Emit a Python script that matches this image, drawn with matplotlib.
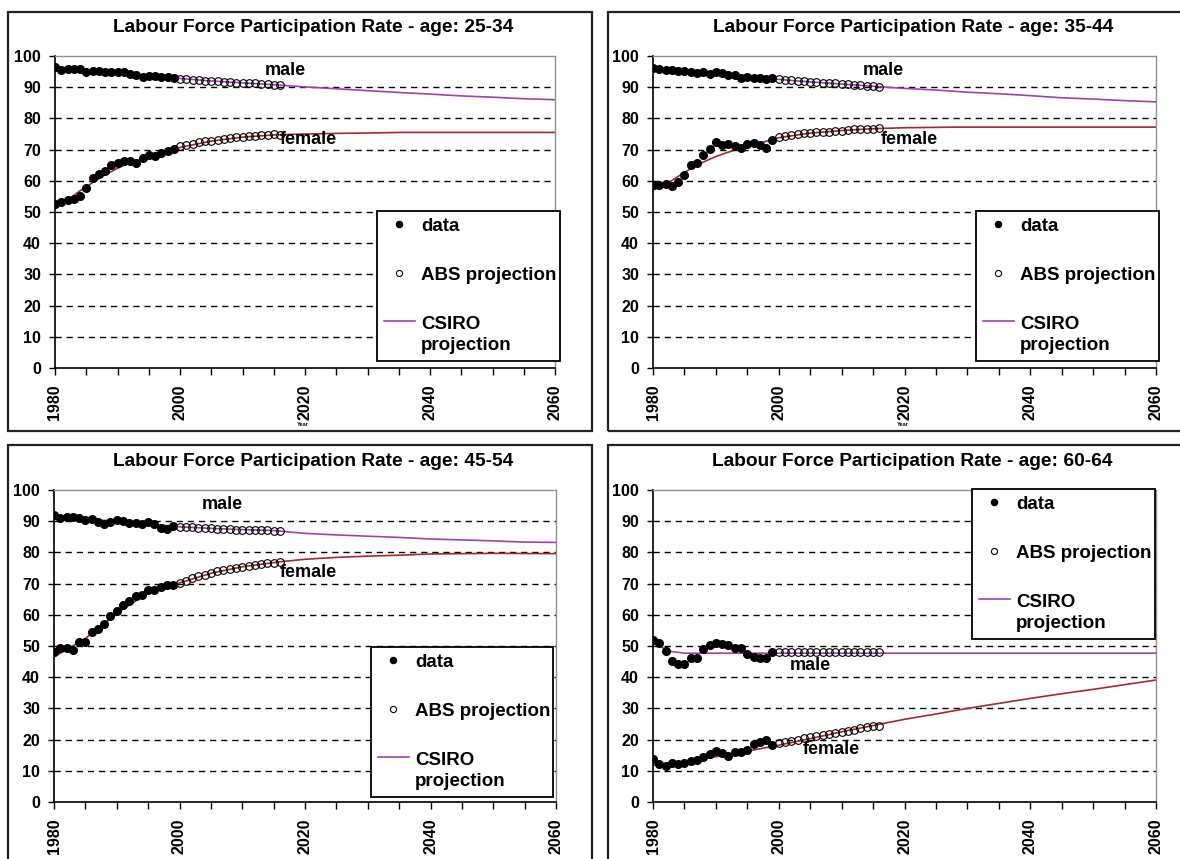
import numpy as np
import matplotlib.pyplot as plt
from matplotlib.patches import Rectangle
from matplotlib.ticker import MultipleLocator

plt.rcParams['font.family'] = ['Liberation Sans', 'DejaVu Sans']
plt.rcParams['font.weight'] = 'bold'

W, H = 1180, 859

ages = ['25-34', '35-44', '45-54', '60-64']

years_data = np.arange(1980, 2000)
years_abs = np.arange(2000, 2017)

# observed participation rates 1980-1999
male_data = {
    '25-34': [96.4, 95.5, 95.9, 95.7, 95.7, 94.9, 95.2, 95.2, 94.9, 94.9,
              94.9, 94.9, 94.2, 93.8, 93.3, 93.6, 93.6, 93.3, 93.3, 93.0],
    '35-44': [96.1, 95.7, 95.5, 95.4, 95.2, 95.2, 95.0, 94.6, 94.9, 94.2,
              95.0, 94.7, 93.9, 94.0, 93.0, 93.4, 93.1, 92.8, 92.7, 92.8],
    '45-54': [91.9, 91.1, 91.2, 91.2, 90.9, 90.3, 90.7, 89.6, 89.0, 89.7,
              90.5, 90.2, 89.4, 89.4, 89.0, 89.9, 89.2, 87.7, 87.4, 88.6],
    '60-64': [51.8, 50.9, 48.4, 45.3, 44.3, 44.1, 46.0, 46.2, 49.1, 50.4,
              51.1, 50.5, 50.2, 49.3, 49.2, 47.3, 46.6, 46.3, 46.2, 48.1],
}
female_data = {
    '25-34': [52.6, 53.3, 53.7, 54.2, 55.2, 57.6, 61.0, 62.3, 63.2, 65.0,
              65.8, 66.3, 66.2, 65.8, 67.2, 68.4, 68.1, 68.8, 69.4, 70.3],
    '35-44': [58.6, 58.7, 59.0, 58.3, 59.5, 61.7, 65.0, 65.6, 68.2, 70.3,
              72.5, 71.5, 71.7, 71.0, 70.5, 71.9, 72.1, 71.4, 70.4, 73.2],
    '45-54': [48.1, 49.2, 49.5, 48.7, 51.2, 51.2, 54.4, 55.5, 57.2, 59.7,
              61.3, 63.2, 64.5, 66.0, 66.2, 68.1, 67.8, 69.0, 69.6, 69.5],
    '60-64': [13.9, 12.1, 11.5, 12.5, 12.1, 12.4, 13.0, 13.6, 14.3, 15.3,
              16.4, 15.6, 14.8, 15.9, 16.0, 16.6, 18.5, 19.1, 19.8, 18.4],
}

# ABS projections 2000-2016
male_abs = {
    '25-34': [92.7, 92.6, 92.4, 92.2, 92.1, 92.0, 91.9, 91.8, 91.6, 91.5,
              91.4, 91.3, 91.2, 91.0, 90.9, 90.8, 90.7],
    '35-44': [92.5, 92.3, 92.2, 92.0, 91.9, 91.7, 91.6, 91.5, 91.3, 91.2,
              91.0, 90.9, 90.8, 90.6, 90.5, 90.3, 90.2],
    '45-54': [88.1, 88.1, 88.0, 87.9, 87.8, 87.8, 87.6, 87.6, 87.5, 87.3,
              87.3, 87.3, 87.2, 87.2, 87.1, 87.0, 87.0],
    '60-64': [48.0, 48.0, 48.0, 48.0, 48.0, 48.0, 48.0, 48.0, 48.0, 48.0,
              48.0, 48.0, 48.0, 48.0, 48.0, 48.0, 48.0],
}
female_abs = {
    '25-34': [71.0, 71.4, 71.7, 72.3, 72.6, 72.9, 73.2, 73.4, 73.6, 73.9,
              74.1, 74.3, 74.4, 74.6, 74.7, 74.9, 74.8],
    '35-44': [73.9, 74.3, 74.7, 74.9, 75.2, 75.3, 75.5, 75.7, 75.8, 76.0,
              76.1, 76.4, 76.5, 76.6, 76.7, 76.7, 77.0],
    '45-54': [70.2, 70.9, 71.7, 72.4, 72.8, 73.3, 73.9, 74.3, 74.7, 75.0,
              75.4, 75.8, 76.0, 76.4, 76.6, 76.7, 76.9],
    '60-64': [19.0, 19.2, 19.5, 19.8, 20.5, 20.9, 21.3, 21.5, 21.8, 22.2,
              22.5, 22.8, 23.2, 23.6, 23.9, 24.2, 24.4],
}

# CSIRO projection (year, value) pairs
years_5 = [1980, 1985, 1990, 1995, 2000, 2005, 2010, 2015, 2020,
           2025, 2030, 2035, 2040, 2045, 2050, 2055, 2060]
male_csiro = {
    '25-34': (years_5, [96.0, 95.2, 94.7, 93.7, 92.8, 92.0, 91.4, 90.8, 90.1,
                        89.5, 88.9, 88.3, 87.8, 87.2, 86.8, 86.3, 86.0]),
    '35-44': (years_5, [96.0, 95.1, 94.5, 93.5, 92.5, 91.7, 91.0, 90.3, 89.6,
                        89.1, 88.4, 87.9, 87.3, 86.6, 86.2, 85.7, 85.3]),
    '45-54': (years_5, [91.5, 90.7, 90.0, 89.2, 88.2, 87.7, 87.3, 87.0, 86.1,
                        85.6, 85.2, 84.8, 84.3, 84.0, 83.7, 83.3, 83.2]),
    '60-64': ([1980, 1982, 1983, 1985, 2060], [51.0, 49.0, 48.2, 47.7, 47.7]),
}
female_csiro = {
    '25-34': ([1980, 1982, 1984, 1986, 1988, 1990, 1992, 1995, 2000, 2005,
               2010, 2015, 2020, 2025, 2030, 2035, 2060],
              [52.3, 53.8, 56.8, 59.4, 61.9, 64.0, 65.8, 67.6, 70.7, 72.7,
               74.0, 74.7, 75.0, 75.2, 75.3, 75.5, 75.5]),
    '35-44': ([1980, 1982, 1984, 1986, 1988, 1990, 1992, 1995, 2000, 2005,
               2010, 2015, 2020, 2028, 2060],
              [57.0, 58.8, 61.4, 63.9, 66.0, 67.8, 69.2, 71.0, 73.8, 75.3,
               76.1, 76.7, 77.0, 77.2, 77.2]),
    '45-54': ([1980, 1985, 1990, 1995, 2000, 2005, 2010, 2016, 2020, 2025,
               2030, 2035, 2040, 2050, 2060],
              [46.5, 52.4, 60.5, 67.0, 70.2, 73.3, 75.4, 77.0, 77.8, 78.4,
               78.8, 79.1, 79.5, 79.7, 79.6]),
    '60-64': (years_5, [11.8, 12.8, 14.5, 16.3, 18.2, 20.3, 22.5, 24.5, 26.5,
                        28.2, 30.0, 31.6, 33.2, 34.7, 36.1, 37.6, 39.1]),
}

# label positions (year, value) for "male" / "female"
male_label = {'25-34': (2016.8, 95.5), '35-44': (2016.6, 95.5),
              '45-54': (2006.8, 95.5), '60-64': (2005.0, 43.6)}
female_label = {'25-34': (2020.6, 73.1), '35-44': (2020.7, 73.2),
                '45-54': (2020.6, 73.6), '60-64': (2008.4, 16.8)}

# layout in pixels: axes (left, right, top, bottom), frame, title centre, legend box
panels = {
    '25-34': dict(ax=(55, 555, 56, 368), frame=(8, 12, 592, 431), title=(313, 27),
                  leg=(377, 211, 560, 362), year=True),
    '35-44': dict(ax=(653, 1156, 56, 368), frame=(608, 12, 1190, 431), title=(913, 27),
                  leg=(976, 211, 1159, 362), year=True),
    '45-54': dict(ax=(54, 556, 490, 802), frame=(8, 445, 592, 870), title=(313, 462),
                  leg=(371, 647, 553, 798), year=False),
    '60-64': dict(ax=(653, 1156, 490, 802), frame=(608, 445, 1190, 870), title=(912, 462),
                  leg=(972, 489, 1155, 641), year=False),
}

purple = '#a040b0'
red = '#a82828'

fig = plt.figure(figsize=(W / 100, H / 100), dpi=100)

for age in ages:
    p = panels[age]
    l, r, t, b = p['ax']
    ax = fig.add_axes([l / W, 1 - b / H, (r - l) / W, (b - t) / H])

    fx0, fy0, fx1, fy1 = p['frame']
    fig.add_artist(Rectangle((fx0 / W, 1 - fy1 / H), (fx1 - fx0) / W, (fy1 - fy0) / H,
                             transform=fig.transFigure, fill=False,
                             edgecolor='#222222', linewidth=1.6, zorder=0))

    for y in range(10, 100, 10):
        ax.axhline(y, color='black', linewidth=1.0, dashes=(4.5, 3.5), zorder=1)

    mx, my = male_csiro[age]
    ax.plot(mx, my, color=purple, linewidth=1.2, zorder=2, label='CSIRO\nprojection')
    fx, fy = female_csiro[age]
    ax.plot(fx, fy, color=red, linewidth=1.2, zorder=2)

    ax.plot(years_abs, male_abs[age], 'o', markersize=5.5, markerfacecolor='none',
            markeredgecolor='black', markeredgewidth=0.8, zorder=3, label='ABS projection')
    ax.plot(years_abs, female_abs[age], 'o', markersize=5.5, markerfacecolor='none',
            markeredgecolor='black', markeredgewidth=0.8, zorder=3)
    ax.plot(years_data, male_data[age], 'o', markersize=5.5, color='black',
            zorder=4, label='data')
    ax.plot(years_data, female_data[age], 'o', markersize=5.5, color='black', zorder=4)

    ax.text(*male_label[age], 'male', fontsize=13, fontweight='bold',
            ha='center', va='center', zorder=5)
    ax.text(*female_label[age], 'female', fontsize=13, fontweight='bold',
            ha='center', va='center', zorder=5)

    ax.set_xlim(1980, 2060)
    ax.set_ylim(0, 100)
    ax.xaxis.set_major_locator(MultipleLocator(20))
    ax.xaxis.set_minor_locator(MultipleLocator(5))
    ax.yaxis.set_major_locator(MultipleLocator(10))
    ax.tick_params(axis='x', which='both', direction='out', length=5, width=1,
                   labelsize=11.5, pad=7, labelrotation=90)
    ax.tick_params(axis='y', direction='out', length=4, width=1, labelsize=11.5, pad=6)
    for lab in ax.get_xticklabels() + ax.get_yticklabels():
        lab.set_fontweight('bold')

    for side in ['top', 'right']:
        ax.spines[side].set_color('#909090')
        ax.spines[side].set_linewidth(1.0)
    for side in ['left', 'bottom']:
        ax.spines[side].set_color('black')
        ax.spines[side].set_linewidth(1.2)

    fig.text(p['title'][0] / W, 1 - p['title'][1] / H,
             'Labour Force Participation Rate - age: ' + age,
             fontsize=13.8, fontweight='bold', ha='center', va='center')

    if p['year']:
        fig.text(((l + r) / 2 - 2) / W, 1 - 424 / H, 'Year', fontsize=4,
                 ha='center', va='center')

    lx0, ly0, lx1, ly1 = p['leg']
    bx0 = (lx0 - l) / (r - l)
    bw = (lx1 - lx0) / (r - l)
    by0 = (b - ly1) / (b - t)
    bh = (ly1 - ly0) / (b - t)
    handles, labels = ax.get_legend_handles_labels()
    order = [labels.index('data'), labels.index('ABS projection'),
             labels.index('CSIRO\nprojection')]
    leg = ax.legend([handles[i] for i in order], [labels[i] for i in order],
                    loc='upper left', bbox_to_anchor=(bx0, by0, bw, bh), mode='expand',
                    prop={'size': 13.5, 'weight': 'bold'}, frameon=True, fancybox=False,
                    edgecolor='black', framealpha=1, labelspacing=1.7,
                    handlelength=1.65, handletextpad=0.35, borderpad=0.35,
                    borderaxespad=0, markerscale=0.8)
    leg.get_frame().set_linewidth(1.3)
    leg.set_zorder(6)
    for txt in leg.get_texts():
        txt.set_linespacing(1.35)
    # put the line sample level with the first line of its two-line label
    csiro_line = leg.legend_handles[2]
    csiro_line.set_ydata(np.asarray(csiro_line.get_ydata()) + 10)

fig.savefig('out.png', dpi=100)
